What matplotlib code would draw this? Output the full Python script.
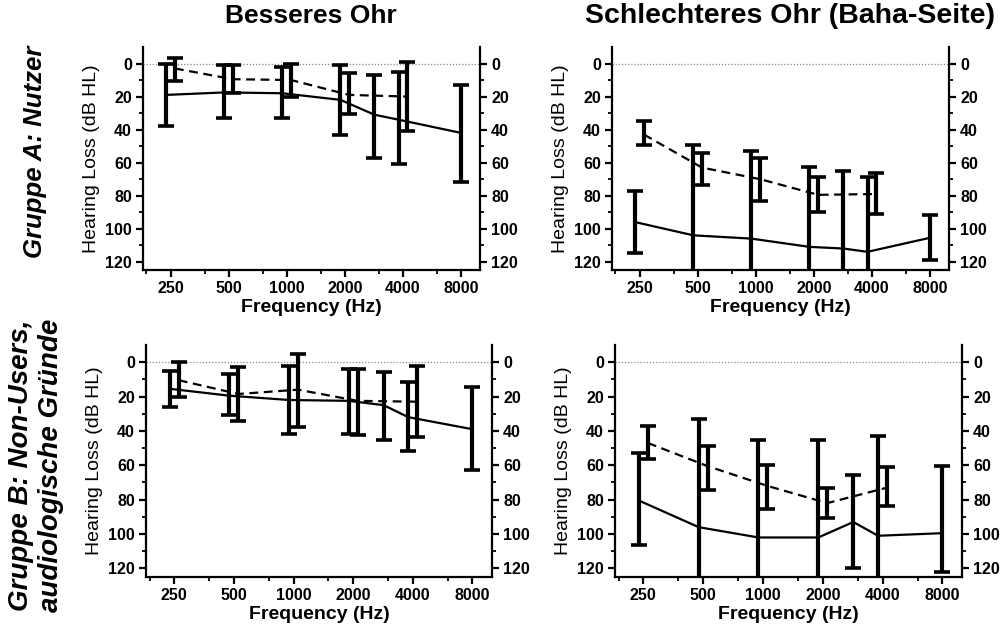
import numpy as np
import matplotlib
matplotlib.use("Agg")
import matplotlib.pyplot as plt
from matplotlib.ticker import FixedLocator, FixedFormatter, NullFormatter

plt.rcParams['font.family'] = ['Liberation Sans', 'DejaVu Sans']

# ---------------- data ----------------
freq_ticks = [250, 500, 1000, 2000, 4000, 8000]
freq_tick_labels = ['250', '500', '1000', '2000', '4000', '8000']
freq_minor = [187.5, 375, 750, 1500, 3000, 6000]
db_ticks = [0, 20, 40, 60, 80, 100, 120]
db_minor = [10, 30, 50, 70, 90, 110]

col_titles = ['Besseres Ohr', 'Schlechteres Ohr (Baha-Seite)']
row_titles = ['Gruppe A: Nutzer', 'Gruppe B: Non-Users,\naudiologische Gründe']

# Group A, better ear
a_best_sol_f = [250, 500, 1000, 2000, 3000, 4000, 8000]
a_best_sol_m = [19, 17.5, 18, 22, 31, 34, 42]
a_best_sol_lo = [0, 1, 2, 1, 7, 5, 13]
a_best_sol_hi = [38, 33, 33, 43, 57, 61, 72]
a_best_das_f = [250, 500, 1000, 2000, 4000]
a_best_das_m = [3, 9.5, 10, 19, 20]
a_best_das_lo = [-3.5, 1, 0, 6, -1]
a_best_das_hi = [10.5, 18, 20, 30.5, 41]

# Group A, worse ear (Baha side)
a_wors_sol_f = [250, 500, 1000, 2000, 3000, 4000, 8000]
a_wors_sol_m = [96, 104, 106, 111, 112, 114, 105.5]
a_wors_sol_lo = [77, 49.5, 53, 62.5, 65, 69, 92]
a_wors_sol_hi = [115, 135, 135, 135, 135, 135, 119]
a_wors_das_f = [250, 500, 1000, 2000, 4000]
a_wors_das_m = [43, 63, 70, 79.5, 79]
a_wors_das_lo = [35, 54, 57, 68.5, 66.5]
a_wors_das_hi = [49.5, 73.5, 83.5, 90, 91]

# Group B, better ear
b_best_sol_f = [250, 500, 1000, 2000, 3000, 4000, 8000]
b_best_sol_m = [15.5, 19.5, 22, 22.5, 25, 32, 39]
b_best_sol_lo = [5, 7, 2, 4, 6, 11.5, 14.5]
b_best_sol_hi = [26, 30.5, 41.5, 41.5, 45, 51.5, 63]
b_best_das_f = [250, 500, 1000, 2000, 4000]
b_best_das_m = [10.5, 18.5, 16, 22.5, 23]
b_best_das_lo = [0, 3, -5, 4, 2]
b_best_das_hi = [20.5, 34.5, 37.5, 42.5, 43.5]

# Group B, worse ear (Baha side)
b_wors_sol_f = [250, 500, 1000, 2000, 3000, 4000, 8000]
b_wors_sol_m = [80.5, 96, 102, 102, 93, 101, 99.5]
b_wors_sol_lo = [53, 33, 45, 45, 65.5, 43, 60.5]
b_wors_sol_hi = [106.5, 135, 135, 135, 120, 135, 122]
b_wors_das_f = [250, 500, 1000, 2000, 4000]
b_wors_das_m = [47, 60.5, 72, 82, 73]
b_wors_das_lo = [37, 48.5, 60, 73.5, 61]
b_wors_das_hi = [56.5, 74.5, 85.5, 90.5, 83.5]

panels = [
    [(a_best_sol_f, a_best_sol_m, a_best_sol_lo, a_best_sol_hi),
     (a_best_das_f, a_best_das_m, a_best_das_lo, a_best_das_hi)],
    [(a_wors_sol_f, a_wors_sol_m, a_wors_sol_lo, a_wors_sol_hi),
     (a_wors_das_f, a_wors_das_m, a_wors_das_lo, a_wors_das_hi)],
    [(b_best_sol_f, b_best_sol_m, b_best_sol_lo, b_best_sol_hi),
     (b_best_das_f, b_best_das_m, b_best_das_lo, b_best_das_hi)],
    [(b_wors_sol_f, b_wors_sol_m, b_wors_sol_lo, b_wors_sol_hi),
     (b_wors_das_f, b_wors_das_m, b_wors_das_lo, b_wors_das_hi)],
]

# ---------------- figure ----------------
W, H = 1001, 630
fig = plt.figure(figsize=(W / 100, H / 100), dpi=100)

# axes boxes in pixels: left, right, top, bottom
boxes = [(143, 480, 47, 270), (612, 949, 47, 270),
         (146, 492, 345, 577), (615, 962, 345, 577)]

OFF = 0.075  # octave offset for the two series

axes = []
for i, (l, r, t, b) in enumerate(boxes):
    ax = fig.add_axes([l / W, 1 - b / H, (r - l) / W, (b - t) / H])
    axes.append(ax)
    (sf, sm, slo, shi), (df, dm, dlo, dhi) = panels[i]
    sf = np.array(sf, float)
    sm = np.array(sm, float)
    df = np.array(df, float)
    dm = np.array(dm, float)
    sx = np.where(sf < 8000, sf * 2 ** (-OFF), sf)
    dx = df * 2 ** OFF

    ax.axhline(0, color='#888888', lw=0.9, ls=(0, (1, 1.5)), zorder=1)

    ax.errorbar(sx, sm, yerr=[sm - np.array(slo), np.array(shi) - sm],
                fmt='-', color='black', lw=1.6, elinewidth=3.0,
                capsize=5.5, capthick=2.6, zorder=3)
    ax.errorbar(dx, dm, yerr=[dm - np.array(dlo), np.array(dhi) - dm],
                fmt='--', color='black', lw=1.6, elinewidth=3.0,
                capsize=5.5, capthick=2.6, zorder=3, dashes=(4, 2.5))

    ax.set_xscale('log', base=2)
    ax.set_xlim(180, 10040)
    ax.set_ylim(125, -10)
    ax.xaxis.set_major_locator(FixedLocator(freq_ticks))
    ax.xaxis.set_major_formatter(FixedFormatter(freq_tick_labels))
    ax.xaxis.set_minor_locator(FixedLocator(freq_minor))
    ax.xaxis.set_minor_formatter(NullFormatter())
    ax.yaxis.set_major_locator(FixedLocator(db_ticks))
    ax.yaxis.set_minor_locator(FixedLocator(db_minor))

    ax.spines['top'].set_visible(False)
    for s in ['left', 'right', 'bottom']:
        ax.spines[s].set_linewidth(1.6)
    ax.tick_params(axis='both', which='major', direction='out', length=5,
                   width=1.6, labelsize=11.5, pad=3)
    ax.tick_params(axis='both', which='minor', direction='out', length=3,
                   width=1.3)
    ax.tick_params(axis='y', which='both', left=True, right=True,
                   labelleft=True, labelright=True)
    for lab in ax.get_xticklabels():
        lab.set_fontweight('bold')
    for t in ax.yaxis.get_major_ticks():
        t.label1.set_fontweight('bold')
        t.label2.set_fontweight('bold')

    ax.set_ylabel('Hearing Loss (dB HL)', fontsize=14, labelpad=4)
    ax.set_xlabel('Frequency (Hz)', fontsize=14, fontweight='bold', labelpad=2)

# column titles
fig.text(311 / W, 1 - 16 / H, col_titles[0], ha='center', va='center',
         fontsize=19, fontweight='bold')
fig.text(790 / W, 1 - 16 / H, col_titles[1], ha='center', va='center',
         fontsize=20.5, fontweight='bold')

# row titles
fig.text(35 / W, 1 - 152 / H, row_titles[0], ha='center', va='center',
         rotation=90, fontsize=18.5, fontweight='bold', fontstyle='italic')
fig.text(36 / W, 1 - 465 / H, row_titles[1], ha='center', va='center',
         rotation=90, fontsize=20, fontweight='bold', fontstyle='italic',
         multialignment='center', linespacing=1.2)

fig.savefig('out.png', dpi=100)
